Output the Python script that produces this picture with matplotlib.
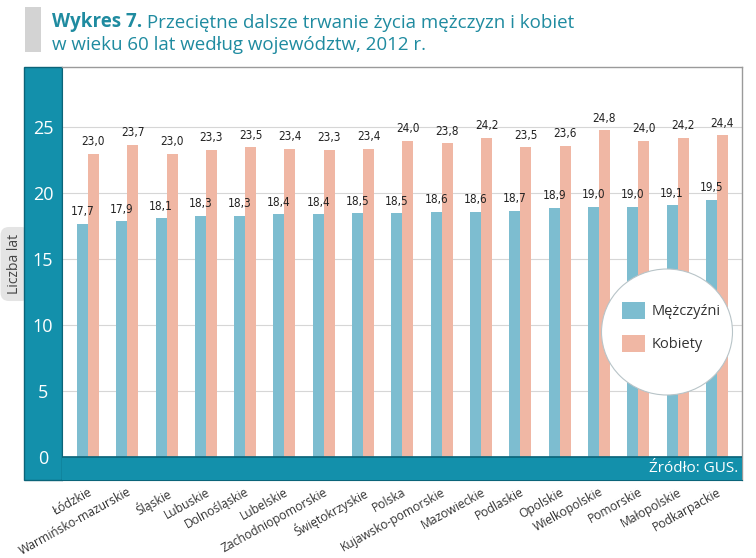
import matplotlib.pyplot as plt
from matplotlib.patches import Rectangle, Ellipse, Patch

# Dane
wojewodztwa = ['Łódzkie', 'Warmińsko-mazurskie', 'Śląskie', 'Lubuskie', 'Dolnośląskie',
               'Lubelskie', 'Zachodniopomorskie', 'Świętokrzyskie', 'Polska',
               'Kujawsko-pomorskie', 'Mazowieckie', 'Podlaskie', 'Opolskie',
               'Wielkopolskie', 'Pomorskie', 'Małopolskie', 'Podkarpackie']
mezczyzni = [17.7, 17.9, 18.1, 18.3, 18.3, 18.4, 18.4, 18.5, 18.5,
             18.6, 18.6, 18.7, 18.9, 19.0, 19.0, 19.1, 19.5]
kobiety = [23.0, 23.7, 23.0, 23.3, 23.5, 23.4, 23.3, 23.4, 24.0,
           23.8, 24.2, 23.5, 23.6, 24.8, 24.0, 24.2, 24.4]
y_ticks = [0, 5, 10, 15, 20, 25]

teal = '#1390ab'
dark_teal = '#0b6479'
blue = '#7dbdd0'
pink = '#f0b7a4'
title_col = '#1f8ba0'

W, H = 756, 558
fig = plt.figure(figsize=(W / 100, H / 100), dpi=100)
plt.rcParams['font.family'] = ['Open Sans', 'DejaVu Sans']

# Axes: x 62..742 px, y 67..480 px
ax = fig.add_axes([62 / W, 1 - 480 / H, 680 / W, 413 / H])
ax.set_zorder(5)

x = list(range(len(wojewodztwa)))
w = 0.28
b1 = ax.bar([i - w / 2 for i in x], mezczyzni, width=w, color=blue, zorder=2)
b2 = ax.bar([i + w / 2 for i in x], kobiety, width=w, color=pink, zorder=2)

fmt = lambda vals: [f'{v:.1f}'.replace('.', ',') for v in vals]
for bars, vals in ((b1, mezczyzni), (b2, kobiety)):
    ax.bar_label(bars, labels=fmt(vals), padding=4, fontsize=8.5, color='#222222',
                 family='DejaVu Sans', fontstretch='condensed')

ax.set_ylim(-1.745, 29.59)
ax.set_xlim(-0.66, 16.64)
ax.set_yticks(y_ticks)
ax.tick_params(axis='y', length=0, pad=13.7, labelcolor='white', labelsize=13)
for lab in ax.get_yticklabels():
    lab.set_horizontalalignment('center')
ax.set_xticks(x)
ax.set_xticklabels(wojewodztwa, rotation=29, ha='right', rotation_mode='anchor',
                   fontsize=8.7, color='#333333')
ax.tick_params(axis='x', length=0, pad=4)
ax.grid(axis='y', color='#d6d6d6', linewidth=0.8, zorder=0)
ax.set_axisbelow(True)

# pasek dolny
ax.axhspan(-1.745, 0, color=teal, zorder=3)
ax.axhline(0, color=dark_teal, linewidth=1.2, zorder=3)
ax.text(0.995, -0.87, 'Źródło: GUS.', transform=ax.get_yaxis_transform(),
        ha='right', va='center', color='white', fontsize=11, zorder=4)

for s in ('top', 'right'):
    ax.spines[s].set_color('#9a9a9a')
    ax.spines[s].set_linewidth(1)
ax.spines['left'].set_color(dark_teal)
ax.spines['bottom'].set_color(dark_teal)

# pasek lewy
fig.add_artist(Rectangle((24 / W, 1 - 480 / H), 38 / W, 413 / H, transform=fig.transFigure,
                         facecolor=teal, edgecolor=dark_teal, linewidth=1, zorder=4))

# etykieta osi Y
fig.text(15 / W, 1 - 264 / H, 'Liczba lat', rotation=90, ha='center', va='center',
         fontsize=10, color='#444444', zorder=3,
         bbox=dict(boxstyle='round,pad=0.5,rounding_size=0.6', facecolor='#e4e4e4',
                   edgecolor='none'))

# tytuł
fig.add_artist(Rectangle((25 / W, 1 - 52 / H), 16 / W, 45 / H, transform=fig.transFigure,
                         facecolor='#d3d3d3', edgecolor='none'))
t1 = fig.text(52 / W, 1 - 27 / H, 'Wykres 7.', fontsize=13.5, fontweight='bold',
              color=title_col, ha='left', va='baseline')
ax.annotate(' Przeciętne dalsze trwanie życia mężczyzn i kobiet', xy=(1, 0),
            xycoords=t1, fontsize=13.5, color=title_col, ha='left', va='bottom',
            annotation_clip=False)
fig.text(52 / W, 1 - 50 / H, 'w wieku 60 lat według województw, 2012 r.', fontsize=13.5,
         color=title_col, ha='left', va='baseline')

# legenda
fig.add_artist(Ellipse((667 / W, 1 - 332 / H), 131 / W, 126 / H, transform=fig.transFigure,
                       facecolor='white', edgecolor='#b8c4c8', linewidth=0.8, zorder=6))
handles = [Patch(facecolor=blue), Patch(facecolor=pink)]
leg = fig.legend(handles, ['Mężczyźni', 'Kobiety'], loc='upper left',
                 bbox_to_anchor=(622 / W, 1 - 302 / H), frameon=False, fontsize=10.5,
                 handlelength=1.55, handleheight=1.45, handletextpad=0.5,
                 labelspacing=1.05, borderpad=0, borderaxespad=0)
leg.set_zorder(7)
for t in leg.get_texts():
    t.set_color('#333333')

fig.savefig('out.png', dpi=100)
